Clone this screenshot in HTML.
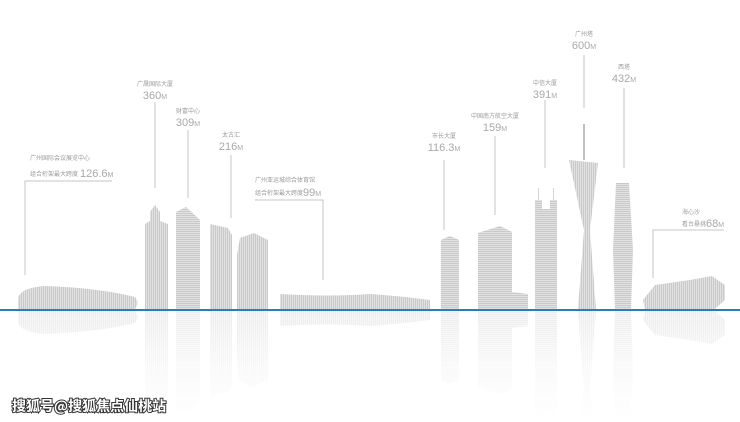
<!DOCTYPE html>
<html><head><meta charset="utf-8"><style>
html,body{margin:0;padding:0;background:#fff;width:740px;height:422px;overflow:hidden}
svg{display:block}
.l{font-family:"Liberation Sans","Noto Sans CJK SC",sans-serif;fill:#9a9a9a;font-size:6px}
.n{font-family:"Liberation Sans",sans-serif;fill:#a8a8a8;font-size:11px;text-anchor:middle}
.n tspan{font-size:7px}
.ln{stroke:#c4c4c4;stroke-width:1;fill:none}
.wm{font-family:"Noto Sans CJK SC","WenQuanYi Zen Hei",sans-serif;font-weight:bold;font-size:14px;fill:#fff;stroke:#333;stroke-width:2px;paint-order:stroke}
</style></head><body>
<svg width="740" height="422" viewBox="0 0 740 422">
<defs>
<pattern id="v" width="2" height="2" patternUnits="userSpaceOnUse"><rect width="2" height="2" fill="#c9c9c9"/><rect width="0.7" height="2" fill="#ececec"/></pattern>
<pattern id="h" width="2" height="2" patternUnits="userSpaceOnUse"><rect width="2" height="2" fill="#c9c9c9"/><rect width="2" height="0.7" fill="#ececec"/></pattern>
<linearGradient id="fg" x1="0" y1="310" x2="0" y2="422" gradientUnits="userSpaceOnUse"><stop offset="0" stop-color="#fff" stop-opacity="0.35"/><stop offset="0.5" stop-color="#fff" stop-opacity="0.12"/><stop offset="1" stop-color="#fff" stop-opacity="0"/></linearGradient>
<mask id="m" maskUnits="userSpaceOnUse" x="0" y="310" width="740" height="112"><rect x="0" y="310" width="740" height="112" fill="url(#fg)"/></mask>
<g id="bld">
<path d="M18,300 Q18,288 45,286 Q100,288 135,297 Q140,303 135,309 L18,309 Z" fill="url(#v)"/>
<path d="M145,309 V224 L150,221 V212 L155,205 L160,212 V221 L168,224 V309 Z" fill="url(#v)"/>
<path d="M176,309 V212 L186,207 L200,220 V309 Z" fill="url(#h)"/>
<path d="M210,309 V224 L228,228 L232,235 V309 Z" fill="url(#v)"/>
<path d="M237,309 V255 L240,238 L254,233 L268,240 V309 Z" fill="url(#v)"/>
<path d="M280,309 V294 Q330,297 370,294 Q400,296 430,300 V309 Z" fill="url(#v)"/>
<path d="M441,309 V240 L450,236 L459,240 V309 Z" fill="url(#h)"/>
<path d="M478,309 V233 L500,226 L512,232 V292 L528,294 V309 Z" fill="url(#h)"/>
<path d="M535,309 V200 H538 V188 H539 V200 H542 V209 H550 V200 H553 V188 H554 V200 H557 V309 Z" fill="url(#h)"/>
<path d="M569,160 L598,163 L590,230 L596,309 H578 L584,230 Z" fill="url(#v)"/>
<rect x="583" y="124" width="2" height="36" fill="#c0c0c0"/>
<path d="M615,309 L613,250 L616,183 H629 L633,250 L631,309 Z" fill="url(#h)"/>
<path d="M643,300 L655,285 L690,280 L712,276 L725,285 V300 L715,309 H645 Z" fill="url(#v)"/>
</g>
</defs>
<use href="#bld"/>
<g mask="url(#m)"><g transform="translate(0,620) scale(1,-1)"><use href="#bld"/></g></g>
<line x1="0" y1="310" x2="740" y2="310" stroke="#2a7cc0" stroke-width="2"/>
<g class="ln">
<path d="M25,275 V181 H112"/>
<path d="M155,102 V188"/>
<path d="M188,130 V198"/>
<path d="M231,155 V218"/>
<path d="M255,200 H323 V280"/>
<path d="M444,160 V230"/>
<path d="M495,136 V215"/>
<path d="M545,100 V168"/>
<path d="M584,55 V108"/>
<path d="M624,88 V168"/>
<path d="M653,278 V230 H724"/>
</g>
<text class="l" x="30" y="160">广州国际会议展览中心</text>
<text class="l" x="30" y="176">组合桁架最大跨度</text><text class="n" x="80" y="177" style="text-anchor:start">126.6<tspan>M</tspan></text>
<text class="l" x="155" y="86" text-anchor="middle">广晟国际大厦</text><text class="n" x="155" y="99">360<tspan>M</tspan></text>
<text class="l" x="188" y="113" text-anchor="middle">财富中心</text><text class="n" x="188" y="126">309<tspan>M</tspan></text>
<text class="l" x="231" y="137" text-anchor="middle">太古汇</text><text class="n" x="231" y="150">216<tspan>M</tspan></text>
<text class="l" x="255" y="182">广州亚运城综合体育馆</text>
<text class="l" x="255" y="195">组合桁架最大跨度</text><text class="n" x="303" y="196" style="text-anchor:start">99<tspan>M</tspan></text>
<text class="l" x="444" y="138" text-anchor="middle">市长大厦</text><text class="n" x="444" y="151">116.3<tspan>M</tspan></text>
<text class="l" x="495" y="118" text-anchor="middle">中国南方航空大厦</text><text class="n" x="495" y="131">159<tspan>M</tspan></text>
<text class="l" x="545" y="85" text-anchor="middle">中信大厦</text><text class="n" x="545" y="98">391<tspan>M</tspan></text>
<text class="l" x="584" y="36" text-anchor="middle">广州塔</text><text class="n" x="584" y="49">600<tspan>M</tspan></text>
<text class="l" x="624" y="69" text-anchor="middle">西塔</text><text class="n" x="624" y="82">432<tspan>M</tspan></text>
<text class="l" x="682" y="214">海心沙</text>
<text class="l" x="682" y="226">看台悬挑</text><text class="n" x="706" y="227" style="text-anchor:start">68<tspan>M</tspan></text>
<text class="wm" x="12" y="411">搜狐号@搜狐焦点仙桃站</text>
</svg>
</body></html>
